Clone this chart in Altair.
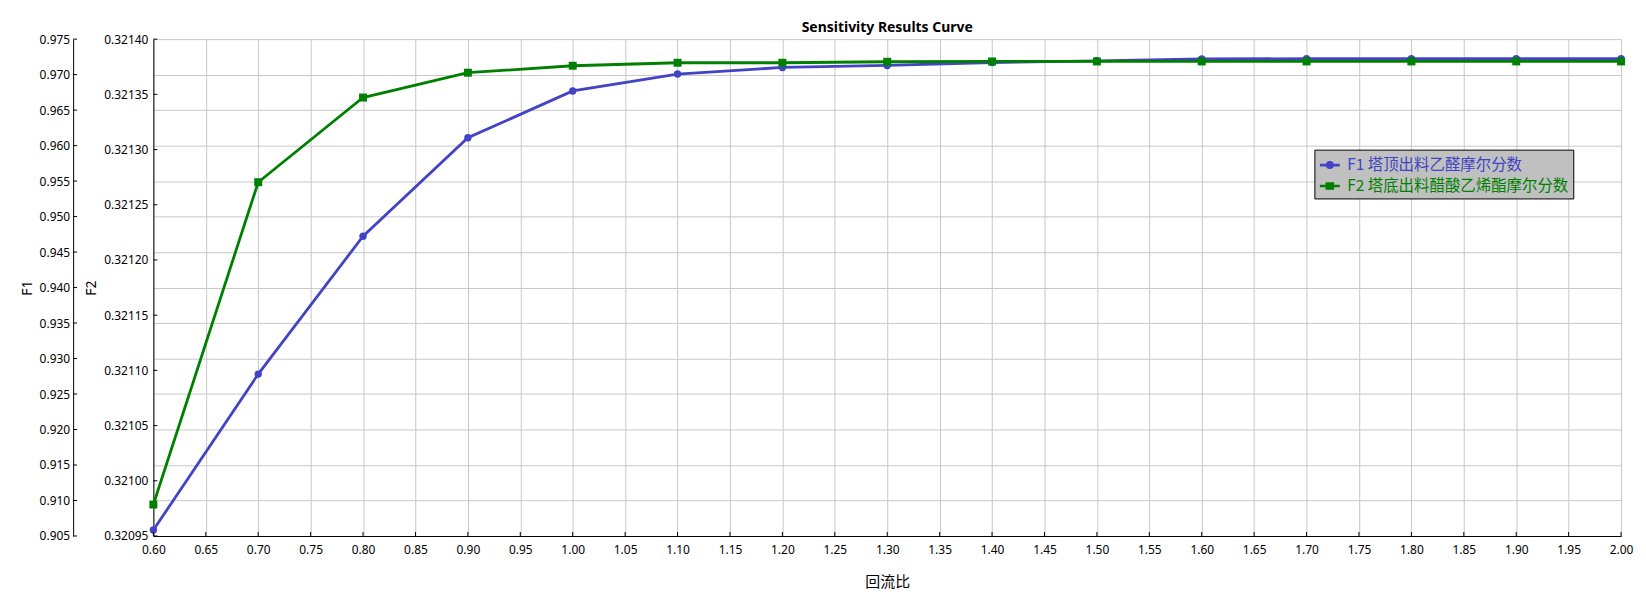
import altair as alt
import pandas as pd

# ---------------- data ----------------
x_vals = [0.60, 0.70, 0.80, 0.90, 1.00, 1.10, 1.20, 1.30, 1.40, 1.50, 1.60, 1.70, 1.80, 1.90, 2.00]
f1_vals = [0.90584, 0.92781, 0.94723, 0.96110, 0.96770, 0.97008, 0.97101, 0.97129,
           0.97171, 0.97195, 0.97220, 0.97225, 0.97225, 0.97225, 0.97225]
f2_vals = [0.3209785, 0.3212704, 0.3213471, 0.3213696, 0.3213759, 0.3213786, 0.3213786, 0.3213795,
           0.3213798, 0.3213798, 0.3213798, 0.3213798, 0.3213798, 0.3213798, 0.3213798]
series_names = ["F1 塔顶出料乙醛摩尔分数", "F2 塔底出料醋酸乙烯酯摩尔分数"]
series_colors = ["#4343C6", "#008000"]

x_ticks = [0.60, 0.65, 0.70, 0.75, 0.80, 0.85, 0.90, 0.95, 1.00, 1.05, 1.10, 1.15, 1.20, 1.25, 1.30,
           1.35, 1.40, 1.45, 1.50, 1.55, 1.60, 1.65, 1.70, 1.75, 1.80, 1.85, 1.90, 1.95, 2.00]
f1_ticks = [0.905, 0.910, 0.915, 0.920, 0.925, 0.930, 0.935, 0.940, 0.945, 0.950, 0.955, 0.960,
            0.965, 0.970, 0.975]
f2_ticks = [0.32095, 0.32100, 0.32105, 0.32110, 0.32115, 0.32120, 0.32125, 0.32130, 0.32135, 0.32140]

# ---------------- layout ----------------
W, H = 1474, 499
F1_OFFSET = 80.6
GRID = "#c8c8c8"

df1 = pd.DataFrame({"x": x_vals, "F1": f1_vals, "series": series_names[0]})
df2 = pd.DataFrame({"x": x_vals, "F2": f2_vals, "series": series_names[1]})
dfx = pd.DataFrame({"x": x_ticks})
dfy1 = pd.DataFrame({"F1": f1_ticks})
dfy2 = pd.DataFrame({"F2": f2_ticks})

x_axis = alt.Axis(values=x_ticks, format=".2f", title="回流比", grid=True, gridColor=GRID,
                  ticks=False, labelPadding=9, labelFlush=False, labelOverlap=False,
                  titleFont="Noto Sans CJK SC", titleFontSize=15, titlePadding=19)
x_enc = alt.X("x:Q", scale=alt.Scale(domain=[0.6, 2.0], nice=False, zero=False), axis=x_axis)

f1_axis = alt.Axis(values=f1_ticks, format=".3f", title="F1", orient="left", offset=F1_OFFSET,
                   grid=True, gridColor=GRID, ticks=False, labelPadding=3.5, labelFlush=False,
                   labelOverlap=False, titlePadding=5)
f2_axis = alt.Axis(values=f2_ticks, format=".5f", title="F2", orient="left", grid=False,
                   ticks=False, labelPadding=5.5, labelFlush=False, labelOverlap=False,
                   titlePadding=5)
y1_enc = alt.Y("F1:Q", scale=alt.Scale(domain=[0.905, 0.975], nice=False, zero=False), axis=f1_axis)
y2_enc = alt.Y("F2:Q", scale=alt.Scale(domain=[0.32095, 0.32140], nice=False, zero=False), axis=f2_axis)

# stroked legend symbols: a line with a (stroke-filled) marker in the middle
CIRCLE_SYM = ("M-1,0L1,0"
              "M-0.27,0A0.27,0.27 0 1,1 0.27,0A0.27,0.27 0 1,1 -0.27,0"
              "M-0.1,0A0.1,0.1 0 1,1 0.1,0A0.1,0.1 0 1,1 -0.1,0")
SQUARE_SYM = ("M-1,0L1,0"
              "M-0.3,-0.25L0.3,-0.25L0.3,0.25L-0.3,0.25Z"
              "M-0.12,-0.08L0.12,-0.08L0.12,0.08L-0.12,0.08Z")

legend = alt.Legend(
    title=None, orient="none", legendX=1166, legendY=111,
    fillColor="#c0c0c0", strokeColor="black", padding=4, cornerRadius=0,
    symbolType=alt.ExprRef(expr=f"datum.value === '{series_names[0]}' ? '{CIRCLE_SYM}' : '{SQUARE_SYM}'"),
    symbolSize=400, symbolStrokeWidth=2.6,
    labelColor=alt.ExprRef(expr=f"datum.value === '{series_names[0]}' ? '{series_colors[0]}' : '{series_colors[1]}'"),
    labelFont="Noto Sans CJK SC", labelFontSize=15.5, labelOffset=6, rowPadding=1, labelLimit=400,
)
color_scale = alt.Scale(domain=series_names, range=series_colors)
color_leg = alt.Color("series:N", scale=color_scale, legend=legend)

line1 = alt.Chart(df1).mark_line(strokeWidth=2.8).encode(x=x_enc, y=y1_enc, color=color_leg)
pts1 = alt.Chart(df1).mark_point(filled=True, shape="circle", size=55, opacity=1,
                                 color=series_colors[0]).encode(x=x_enc, y=y1_enc)
tk1 = alt.Chart(dfy1).mark_rule(color="black", strokeWidth=1).encode(
    y=y1_enc, x=alt.value(-F1_OFFSET), x2=alt.value(-F1_OFFSET + 4))

line2 = alt.Chart(df2).mark_line(strokeWidth=2.8).encode(x=x_enc, y=y2_enc, color=color_leg)
pts2 = alt.Chart(df2).mark_point(filled=True, shape="square", size=64, opacity=1,
                                 color=series_colors[1]).encode(x=x_enc, y=y2_enc)
tk2 = alt.Chart(dfy2).mark_rule(color="black", strokeWidth=1).encode(
    y=y2_enc, x=alt.value(0), x2=alt.value(4))

tkx = alt.Chart(dfx).mark_rule(color="black", strokeWidth=1).encode(
    x=x_enc, y=alt.value(H - 4), y2=alt.value(H))

blue = alt.layer(line1, pts1, tk1)
green = alt.layer(line2, pts2, tk2)

chart = alt.layer(blue, green, tkx).resolve_scale(y="independent").properties(
    width=W, height=H,
    title=alt.TitleParams("Sensitivity Results Curve", font="Noto Sans", fontSize=14,
                          fontWeight="bold", color="black", offset=-2, anchor="middle"),
    padding={"left": 12, "top": 12, "right": 5, "bottom": 5},
).configure_view(stroke=None).configure_axis(
    labelFont="Noto Sans", labelFontSize=12, labelColor="black",
    titleFont="Noto Sans", titleFontSize=14, titleFontWeight="normal", titleColor="black",
    domainColor="black", domainWidth=1,
)

chart.save("out.html", embed_options={"renderer": "svg", "actions": False})
